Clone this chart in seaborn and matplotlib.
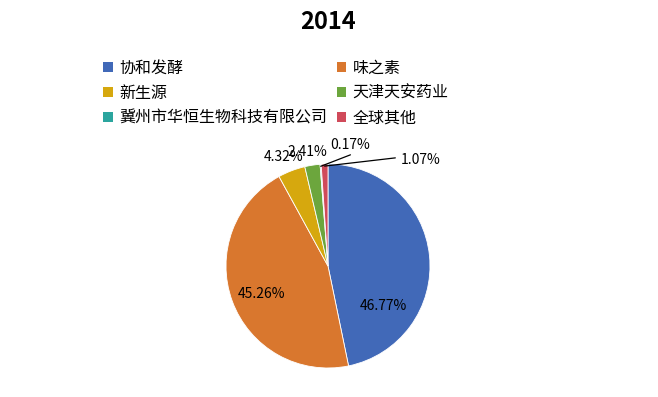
import numpy as np
import seaborn as sns
import matplotlib.pyplot as plt
from matplotlib.patches import Patch

companies = ["协和发酵", "味之素", "新生源", "天津天安药业", "冀州市华恒生物科技有限公司", "全球其他"]
shares = [46.77, 45.26, 4.32, 2.41, 0.17, 1.07]
colors = ["#4169B8", "#D9772E", "#D6A80E", "#6CA63D", "#2BA59E", "#D04A5A"]
title = "2014"

# label centres in pie-radius units
label_pos = [(0.54, -0.39), (-0.65, -0.27), (-0.44, 1.07), (-0.20, 1.12), (0.22, 1.19), (0.91, 1.04)]
# leader line ends for the two thin slices
leader_end = {4: (0.22, 1.09), 5: (0.66, 1.06)}

sns.set_style("white")
plt.rcParams['font.family'] = ['Noto Sans CJK SC', 'DejaVu Sans']
plt.rcParams['text.color'] = "black"

fig = plt.figure(figsize=(6.58, 3.97), dpi=100)
W, H = 658, 397
cx, cy, r = 328, 266, 102
ax = fig.add_axes([(cx - r) / W, (H - cy - r) / H, 2 * r / W, 2 * r / H])

wedges, _ = ax.pie(shares, colors=colors, startangle=90, counterclock=False,
                   radius=1, wedgeprops=dict(linewidth=0.6, edgecolor="white"))
ax.set_xlim(-1, 1)
ax.set_ylim(-1, 1)
ax.set_aspect("equal")
ax.axis("off")

for i, (w, v) in enumerate(zip(wedges, shares)):
    x, y = label_pos[i]
    ax.text(x, y, f"{v:.2f}%", ha="center", va="center", fontsize=10, clip_on=False)
    if i in leader_end:
        mid = np.deg2rad((w.theta1 + w.theta2) / 2)
        ex, ey = leader_end[i]
        ax.plot([np.cos(mid) * 0.98, ex], [np.sin(mid) * 0.98, ey],
                color="black", linewidth=0.9, clip_on=False)

fig.text(cx / W, 1 - 22 / H, title, ha="center", va="center",
         fontsize=17, fontweight="bold")

handles = [Patch(facecolor=c, edgecolor="none") for c in colors]
order = [0, 2, 4, 1, 3, 5]
fig.legend([handles[i] for i in order], [companies[i] for i in order],
           ncol=2, loc="upper left", bbox_to_anchor=(103 / W, 1 - 60 / H),
           frameon=False, fontsize=11.5, handlelength=0.6, handleheight=0.6,
           handletextpad=0.4, columnspacing=0.6, labelspacing=0.5,
           borderpad=0, borderaxespad=0)

fig.savefig("out.png", dpi=100)
